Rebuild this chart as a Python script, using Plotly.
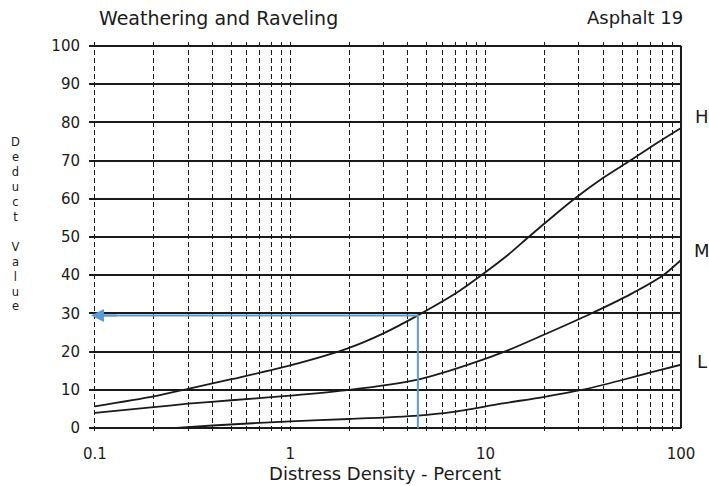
import math
import plotly.graph_objects as go

# Deduct value curves for weathering and raveling (asphalt), by severity
h_density = [0.1, 0.2, 0.3, 0.5, 1, 2, 3, 4.5, 7, 9.5, 13, 16.6, 22, 28.5, 40, 55, 75, 100]
h_deduct = [5.7, 8.3, 10.3, 12.8, 16.4, 21.0, 24.8, 29.5, 35.2, 40.0, 45.3, 50.0, 55.3, 60.0, 65.5, 70.0, 74.5, 78.5]

m_density = [0.1, 0.2, 0.3, 0.5, 1, 2, 4.5, 7, 12.5, 20, 34.7, 55, 81, 100]
m_deduct = [4.0, 5.5, 6.4, 7.3, 8.5, 10.0, 12.7, 15.5, 20.0, 24.5, 30.0, 35.0, 40.0, 44.0]

l_density = [0.25, 0.4, 1, 2, 4.5, 6.7, 12, 20, 31, 50, 70, 100]
l_deduct = [0.0, 0.7, 1.8, 2.4, 3.3, 4.2, 6.4, 8.2, 10.0, 12.6, 14.6, 16.6]

severity_labels = ["H", "M", "L"]
severity_label_y = [81.5, 46.5, 17.5]

# Worked example: density read up to the H curve, then across to the deduct axis
example_density = 4.5
example_deduct = 29.5

major_ticks = [0.1, 1, 10, 100]
major_text = ["0.1", "1", "10", "100"]
y_ticks = list(range(0, 101, 10))

# every 1..9 multiple per decade gets a gridline, only decades get a label
tick_vals, tick_text = [], []
for base in [0.1, 1, 10]:
    for k in range(1, 10):
        v = round(k * base, 3)
        tick_vals.append(v)
        tick_text.append(major_text[major_ticks.index(v)] if v in major_ticks else "")
tick_vals.append(100)
tick_text.append("100")

FONT = "DejaVu Sans"
INK = "#1a1a1a"
BLUE = "#5b9bd5"

fig = go.Figure()
for xs, ys in [(h_density, h_deduct), (m_density, m_deduct), (l_density, l_deduct)]:
    fig.add_trace(go.Scatter(x=xs, y=ys, mode="lines", line=dict(color=INK, width=1.8, shape="spline", smoothing=0.8),
                             hoverinfo="skip", showlegend=False))

# example reading path (vertical rise, then horizontal run toward the axis)
fig.add_trace(go.Scatter(x=[example_density, example_density, major_ticks[0]],
                         y=[0, example_deduct, example_deduct],
                         mode="lines", line=dict(color=BLUE, width=2), hoverinfo="skip", showlegend=False))

fig.add_annotation(x=math.log10(major_ticks[0]) - 0.02, y=example_deduct, xref="x", yref="y",
                   ax=math.log10(major_ticks[0]) + 0.12, ay=example_deduct, axref="x", ayref="y",
                   showarrow=True, arrowhead=2, arrowsize=1.3, arrowwidth=2, arrowcolor=BLUE, text="")

# right-hand border of the chart
fig.add_shape(type="line", xref="x domain", yref="y", x0=1, x1=1, y0=0, y1=100,
              line=dict(color=INK, width=2))

for lab, yv in zip(severity_labels, severity_label_y):
    fig.add_annotation(x=1.035, y=yv, xref="paper", yref="y", text=lab, showarrow=False,
                       font=dict(family=FONT, size=18, color=INK), xanchor="center")

fig.add_annotation(x=0.0135, y=1.062, xref="paper", yref="paper", text="Weathering and Raveling",
                   showarrow=False, xanchor="left", yanchor="middle", font=dict(family=FONT, size=19, color=INK))
fig.add_annotation(x=1.006, y=1.062, xref="paper", yref="paper", text="Asphalt 19",
                   showarrow=False, xanchor="right", yanchor="middle", font=dict(family=FONT, size=18, color=INK))

# stacked vertical axis title, one letter per line
stacked = "<br>".join("Deduct") + "<br><br>" + "<br>".join("Value")
fig.add_annotation(x=-0.125, y=(432 - 224) / 390, xref="paper", yref="paper", text=stacked,
                   showarrow=False, xanchor="center", yanchor="middle", align="center",
                   font=dict(family=FONT, size=11.5, color=INK))

fig.update_layout(
    width=709, height=486,
    margin=dict(l=89, r=28, t=42, b=54),
    paper_bgcolor="white", plot_bgcolor="white",
    font=dict(family=FONT, size=15, color=INK),
    xaxis=dict(type="log", range=[math.log10(0.1) - 0.03, 2], tickvals=tick_vals, ticktext=tick_text,
               showgrid=True, gridcolor=INK, gridwidth=1.4, griddash="5px,3px",
               zeroline=False, showline=False, ticks="", ticklabelstandoff=11, automargin=False,
               tickfont=dict(family=FONT, size=15, color=INK),
               title=dict(text="Distress Density - Percent", font=dict(family=FONT, size=18, color=INK), standoff=4)),
    yaxis=dict(range=[-1, 101], tickvals=y_ticks, showgrid=True, gridcolor=INK, gridwidth=2,
               zeroline=False, showline=False, ticks="", ticklabelstandoff=8, automargin=False,
               tickfont=dict(family=FONT, size=15, color=INK)),
)

fig.write_html("out.html")
